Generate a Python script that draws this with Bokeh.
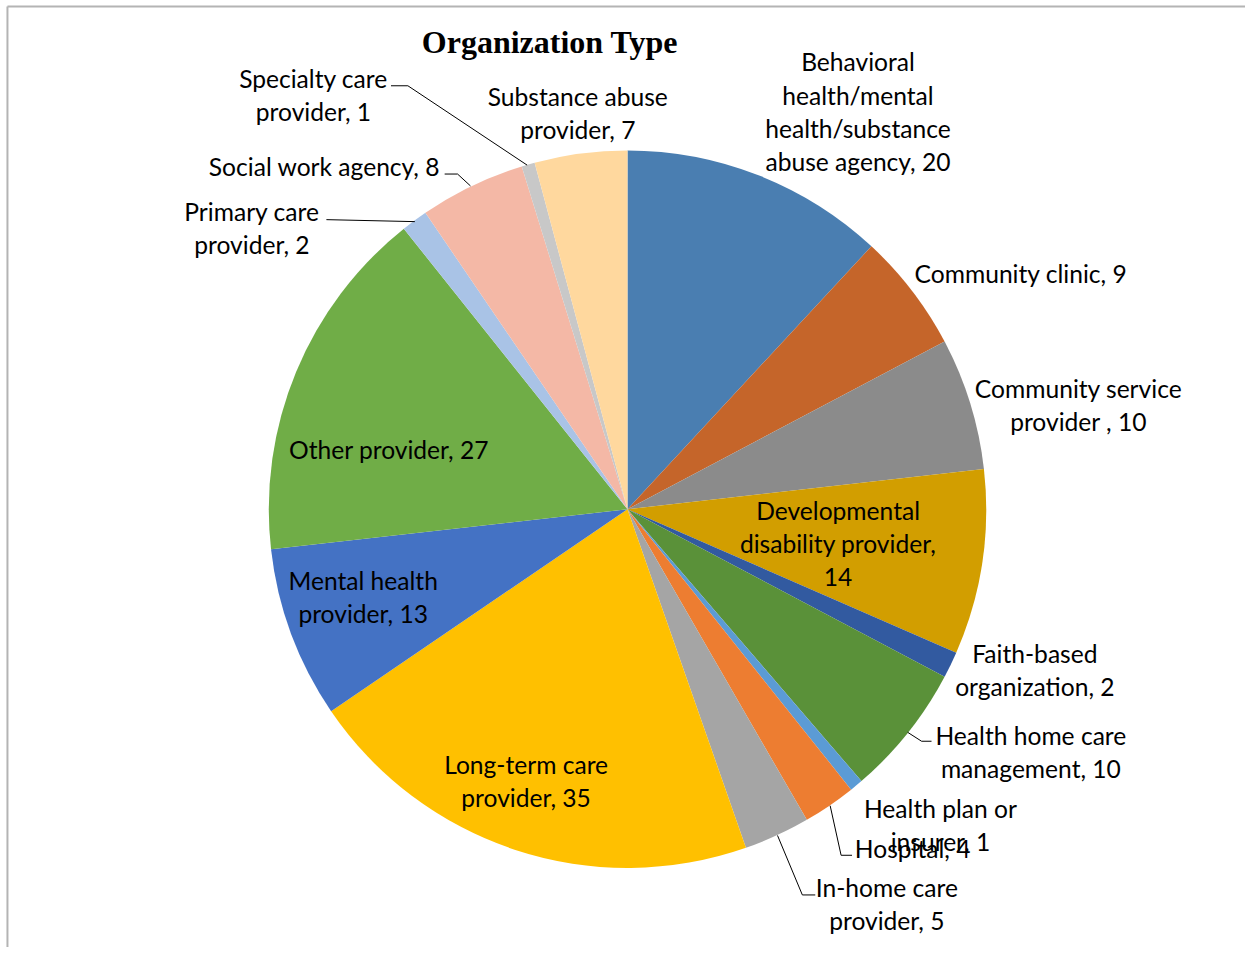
import math
from bokeh.plotting import figure
from bokeh.models import Range1d, ColumnDataSource
from bokeh.core.properties import value
from bokeh.embed import file_html
from bokeh.resources import INLINE

# ---- data ----
categories = [
    "Behavioral health/mental health/substance abuse agency",
    "Community clinic", "Community service provider ",
    "Developmental disability provider", "Faith-based organization",
    "Health home care management", "Health plan or insurer", "Hospital",
    "In-home care provider", "Long-term care provider",
    "Mental health provider", "Other provider", "Primary care provider",
    "Social work agency", "Specialty care provider",
    "Substance abuse provider",
]
counts = [20, 9, 10, 14, 2, 10, 1, 4, 5, 35, 13, 27, 2, 8, 1, 7]
labels = [
    "Behavioral\nhealth/mental\nhealth/substance\nabuse agency, 20",
    "Community clinic, 9",
    "Community service\nprovider , 10",
    "Developmental\ndisability provider,\n14",
    "Faith-based\norganization, 2",
    "Health home care\nmanagement, 10",
    "Health plan or\ninsurer, 1",
    "Hospital, 4",
    "In-home care\nprovider, 5",
    "Long-term care\nprovider, 35",
    "Mental health\nprovider, 13",
    "Other provider, 27",
    "Primary care\nprovider, 2",
    "Social work agency, 8",
    "Specialty care\nprovider, 1",
    "Substance abuse\nprovider, 7",
]
title_text = "Organization Type"

# ---- styles / layout ----
colors = ["#4A7EB1", "#C5652A", "#8B8B8B", "#D29E00", "#325AA0", "#5A9139",
          "#5B9BD5", "#ED7D31", "#A5A5A5", "#FFC000", "#4472C4", "#70AD47",
          "#A9C3E6", "#F4B8A6", "#C8C8C8", "#FFD89E"]
# label block centres in reference pixels (x, y)
label_pos = [(863, 112), (1027, 275), (1085, 407.5), (843, 548), (1041, 675.5),
             (1037, 757.5), (946, 831.5), (918, 855), (892, 911.5), (529, 787.5),
             (365, 601.5), (391, 453), (253, 229.5), (326, 167), (315, 95.5),
             (581, 113.5)]
# leader lines in reference pixels
leaders = [
    [(393, 86), (410, 86), (530, 166)],
    [(447, 175), (460, 175), (473, 187)],
    [(328, 221), (417, 223)],
    [(913, 738), (927, 747), (937, 747)],
    [(835, 812), (846, 862), (857, 862)],
    [(782, 842), (807, 902), (820, 902)],
]

W, H = 1245, 947
RW, RH = 1253, 955  # reference frame


def sy(y):
    return RH - y


p = figure(width=W, height=H, output_backend="svg", toolbar_location=None,
           x_range=Range1d(0, RW), y_range=Range1d(0, RH),
           min_border=0, outline_line_color=None)
p.axis.visible = False
p.grid.visible = False
p.background_fill_color = "white"
p.border_fill_color = "white"

# chart-area frame (top and left visible in the cropped reference)
p.line([7, RW], [sy(6), sy(6)], line_color="#B4B4B4", line_width=2)
p.line([7, 7], [sy(6), 0], line_color="#B4B4B4", line_width=2)

cx, cy, r = 631, sy(513), 361
total = sum(counts)
starts, ends = [], []
acc = 0
for c in counts:
    starts.append(math.pi / 2 - 2 * math.pi * acc / total)
    acc += c
    ends.append(math.pi / 2 - 2 * math.pi * acc / total)

src = ColumnDataSource(dict(start=starts, end=ends, color=colors, cat=categories))
p.wedge(x=cx, y=cy, radius=r, start_angle="start", end_angle="end",
        direction="clock", fill_color="color", line_color=None, source=src)

for pts in leaders:
    p.line([a for a, b in pts], [sy(b) for a, b in pts], line_color="black", line_width=1)

lsrc = ColumnDataSource(dict(x=[a for a, b in label_pos], y=[sy(b) for a, b in label_pos],
                             text=labels))
p.text(x="x", y="y", text="text", source=lsrc, text_align="center",
       text_baseline="middle", text_font=value("Lato"), text_font_size="24.6px",
       text_line_height=1.14, text_color="black")

p.text(x=[553], y=[sy(42)], text=[title_text], text_align="center",
       text_baseline="middle", text_font=value("Liberation Serif"),
       text_font_size="32px", text_font_style="bold", text_color="black")

open("out.html", "w").write(file_html(p, INLINE))
